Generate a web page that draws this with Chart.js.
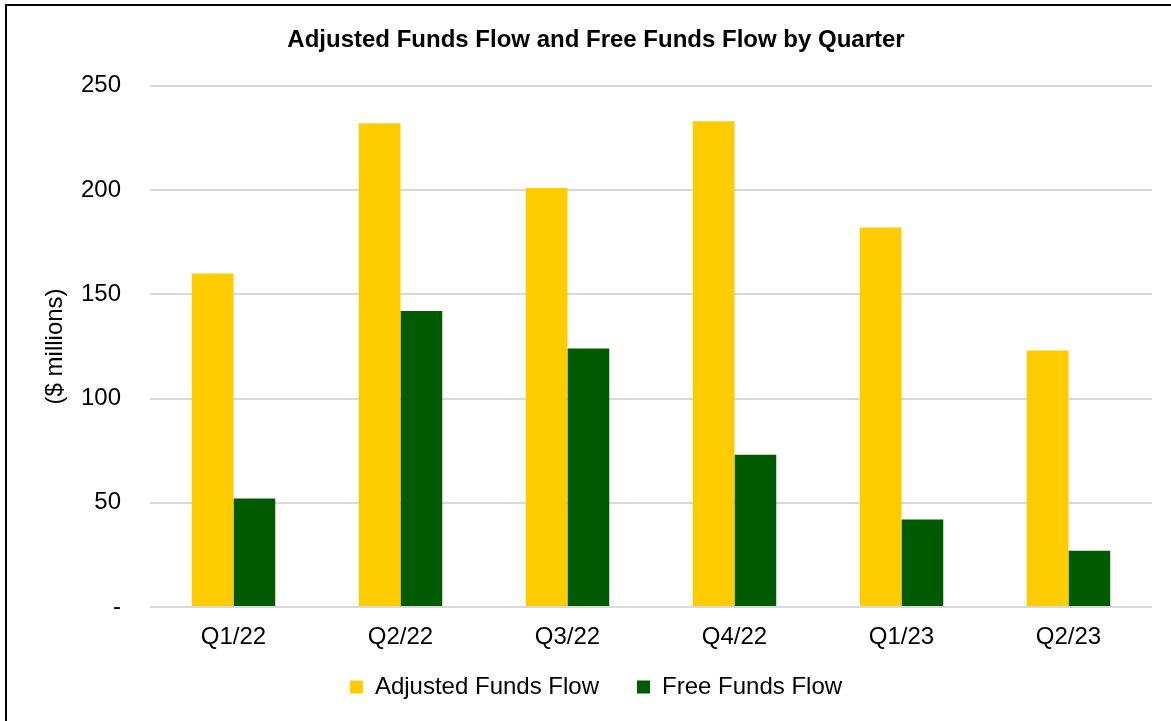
<!DOCTYPE html>
<html>
<head>
<meta charset="utf-8">
<script src="https://cdn.jsdelivr.net/npm/chart.js@4.4.0/dist/chart.umd.min.js"></script>
<style>
  body { margin: 0; background: #fff; }
  #frame { position: absolute; left: 5px; top: 4px; width: 1180px; height: 730px; border: 2px solid #000; box-sizing: border-box; }
  #wrap { position: absolute; left: 0; top: 0; width: 1171px; height: 721px; }
</style>
</head>
<body>
<div id="frame"></div>
<div id="wrap"><canvas id="grafico"></canvas></div>
<script>
// datos por trimestre
const trimestres = ['Q1/22', 'Q2/22', 'Q3/22', 'Q4/22', 'Q1/23', 'Q2/23'];
const adjustedFundsFlow = [160, 232, 201, 233, 182, 123];
const freeFundsFlow = [52, 142, 124, 73, 42, 27];
const ticksY = [0, 50, 100, 150, 200, 250];

const fuente = "'Liberation Sans', Arial, sans-serif";
Chart.defaults.font.family = fuente;
Chart.defaults.color = '#000';

const ctx = document.getElementById('grafico').getContext('2d');

const chart = new Chart(ctx, {
  type: 'bar',
  data: {
    labels: trimestres,
    datasets: [{
      label: 'Adjusted Funds Flow',
      data: adjustedFundsFlow,
      backgroundColor: '#FFCC00'
    }, {
      label: 'Free Funds Flow',
      data: freeFundsFlow,
      backgroundColor: '#005A00'
    }]
  },
  options: {
    responsive: true,
    maintainAspectRatio: false,
    animation: false,
    layout: { padding: { left: 40, right: 19, top: 0, bottom: 12 } },
    datasets: { bar: { categoryPercentage: 0.5, barPercentage: 1 } },
    plugins: {
      title: {
        display: true,
        text: 'Adjusted Funds Flow and Free Funds Flow by Quarter',
        font: { size: 24, weight: 'bold' },
        padding: { top: 26, bottom: 31 }
      },
      legend: {
        position: 'bottom',
        labels: { boxWidth: 13, boxHeight: 13, padding: 38, font: { size: 24 } }
      },
      tooltip: { enabled: false }
    },
    scales: {
      x: {
        grid: { display: false, drawTicks: false },
        border: { display: false },
        ticks: { font: { size: 24 }, padding: 16 },
        afterFit: (s) => {
          s.height = 30;
          // que las etiquetas no se recorten al alto fijo del eje
          s._computeLabelArea = () => undefined;
        }
      },
      y: {
        min: 0, max: 250,
        afterBuildTicks: (s) => { s.ticks = ticksY.map(v => ({ value: v })); },
        grid: { color: '#D9D9D9', lineWidth: 2, drawTicks: false },
        border: { display: false },
        ticks: {
          font: { size: 24 }, padding: 29,
          callback: (v) => v === 0 ? '-' : v
        },
        title: { display: true, text: '($ millions)', font: { size: 24 }, padding: { top: 1, bottom: 0 } },
        afterFit: (s) => { s.width = 110; }
      }
    }
  }
});
</script>
</body>
</html>
